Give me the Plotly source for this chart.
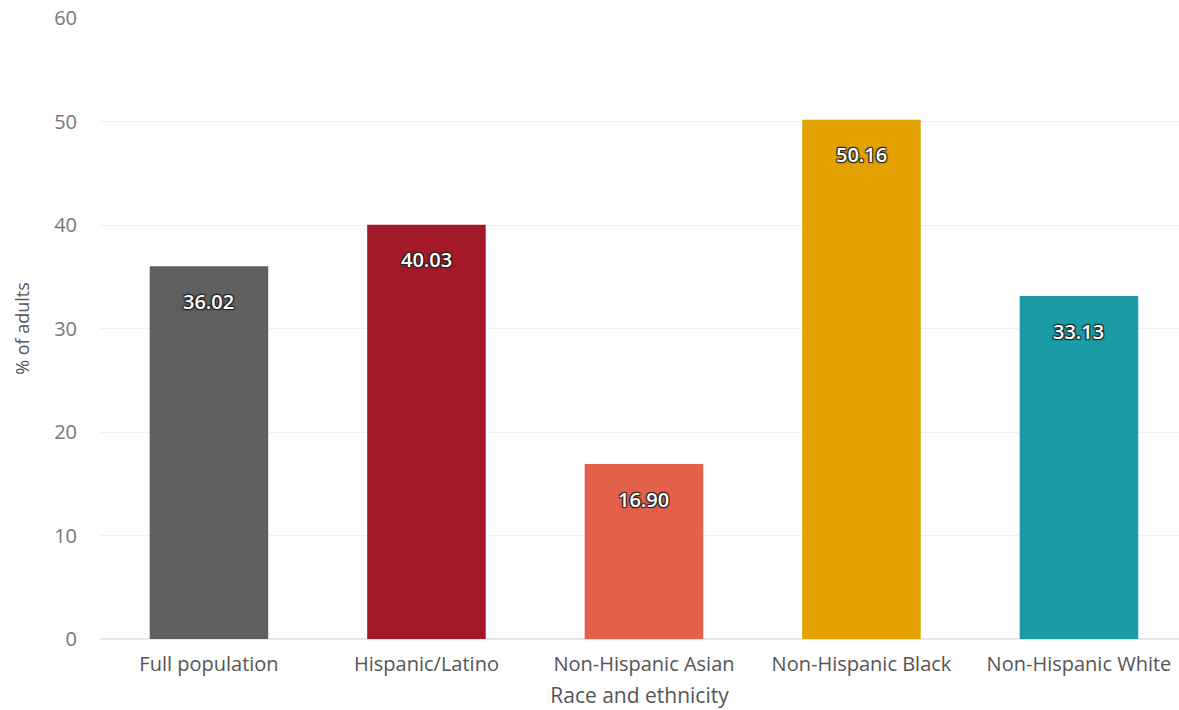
import plotly.graph_objects as go

categories = ["Full population", "Hispanic/Latino", "Non-Hispanic Asian",
              "Non-Hispanic Black", "Non-Hispanic White"]
values = [36.02, 40.03, 16.90, 50.16, 33.13]
bar_colors = ["#5f5f5f", "#a3192a", "#e3614b", "#e2a100", "#1a9ba6"]
y_ticks = [0, 10, 20, 30, 40, 50, 60]

FONT = "Open Sans, Noto Sans, sans-serif"
outline = ("1px 1px 1px #222, -1px -1px 1px #222, "
           "1px -1px 1px #222, -1px 1px 1px #222")

fig = go.Figure()
fig.add_trace(go.Bar(
    x=list(range(len(categories))),
    y=values,
    marker=dict(color=bar_colors, line=dict(width=0)),
    width=0.545,
    hovertemplate="%{y:.2f}<extra></extra>",
))

for i, v in enumerate(values):
    fig.add_annotation(
        x=i, y=v, yshift=-35, text=f"{v:.2f}", showarrow=False,
        font=dict(family=FONT, size=20, color="white", weight=600, shadow=outline),
        xanchor="center", yanchor="middle",
    )

fig.update_layout(
    width=1179, height=710,
    margin=dict(l=100, r=0, t=18, b=71),
    paper_bgcolor="white", plot_bgcolor="white",
    showlegend=False,
    font=dict(family=FONT, color="#555"),
    xaxis=dict(
        tickmode="array", tickvals=list(range(len(categories))), ticktext=categories,
        range=[-0.501, 4.46], showgrid=False, zeroline=False, showline=False,
        tickfont=dict(size=20, color="#555"), ticks="", ticklen=0,
        ticklabelstandoff=11,
        title=dict(text="Race and ethnicity", font=dict(size=21, color="#555"), standoff=12),
        automargin=False,
    ),
    yaxis=dict(
        range=[0, 60], tickvals=y_ticks, showgrid=True, gridcolor="#f1f1f1",
        zeroline=True, zerolinecolor="#e6e6e6", showline=False,
        tickfont=dict(size=20, color="#777"), ticks="", ticklabelstandoff=22,
        title=dict(text="% of adults", font=dict(size=18, color="#555"), standoff=19),
        automargin=False,
    ),
)

fig.write_html("out.html")
